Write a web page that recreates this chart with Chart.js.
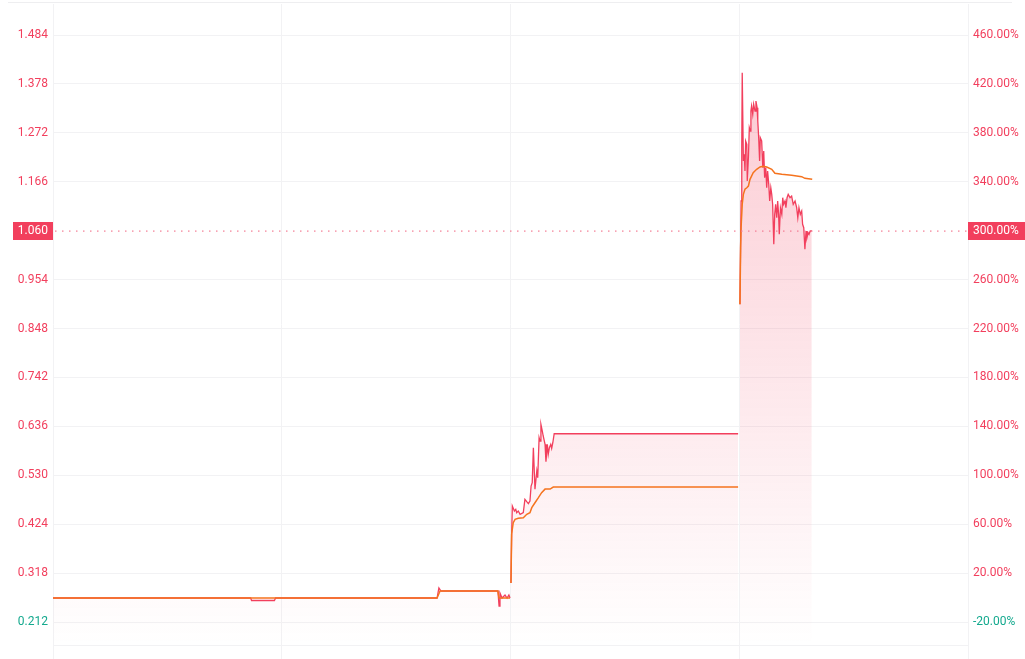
<!DOCTYPE html>
<html>
<head>
<meta charset="utf-8">
<script src="https://cdn.jsdelivr.net/npm/chart.js@4.4.0/dist/chart.umd.min.js"></script>
<style>
  html, body { margin: 0; padding: 0; background: #fff; }
  #wrap { width: 1025px; height: 659px; }
</style>
</head>
<body>
<div id="wrap"><canvas id="priceChart" width="1025" height="659"></canvas></div>
<script>
// ------------------- DATA -------------------
// price line (red), null = gap between trading sessions
const priceTimes = [
  0, 86.4, 86.8, 96.8, 97.3, 167.9, 168.7, 169.6, 194.5, 195.0, 195.4, 196.3, 197.6, 198.5, 199.3, 199.8,
  200.0,
  200.2, 200.5, 200.8, 201.7, 202.3, 202.7, 203.4, 204.2, 205.6, 206.3, 207.1, 207.8, 208.5, 209.0, 209.5,
  210.0, 210.7, 211.5, 211.9, 212.5, 212.9, 213.3, 213.9, 214.3, 215.1, 215.5, 216.1, 216.5, 217.0, 217.6,
  218.0, 218.5, 219.1, 299.5,
  300.0,
  300.3, 300.8, 301.1, 301.3, 301.8, 302.2, 302.5, 302.8, 303.3, 303.5, 304.0, 304.4, 304.8, 305.1, 305.4,
  305.9, 306.3, 306.9, 307.3, 307.8, 308.1, 308.5, 308.9, 309.2, 309.8, 310.3, 310.7, 311.1, 311.6, 312.0,
  312.4, 312.9, 313.3, 313.8, 314.2, 314.6, 315.1, 315.5, 315.9, 316.4, 316.8, 317.2, 317.5, 318.0, 318.6,
  319.0, 319.4, 320.0, 320.4, 320.9, 321.4, 322.2, 322.9, 323.6, 324.4, 325.1, 325.6, 326.1, 326.7, 327.3,
  327.7, 328.2, 328.7, 329.2, 329.6, 330.1, 330.5, 331.0, 331.7
];
const priceValues = [
  0.264, 0.264, 0.2586, 0.2586, 0.264, 0.264, 0.2857, 0.2792, 0.2792, 0.2467, 0.2748, 0.264, 0.2705, 0.264, 0.2705, 0.264,
  null,
  0.2965, 0.4027, 0.4634, 0.4525, 0.4562, 0.4489, 0.4525, 0.4454, 0.4489, 0.4779, 0.4727, 0.4684, 0.4742, 0.5067, 0.5139,
  0.5897, 0.5000, 0.5392, 0.5247, 0.6114, 0.6042, 0.6404, 0.6259, 0.6151, 0.5971, 0.5594, 0.5971, 0.5754, 0.5897, 0.5971,
  0.5884, 0.6005, 0.6200, 0.6200,
  null,
  0.9005, 1.1243, 1.2398, 1.4023, 1.2110, 1.2255, 1.1893, 1.2543, 1.2472, 1.1676, 1.2181, 1.2831, 1.2760, 1.3193, 1.3302,
  1.3122, 1.3339, 1.3193, 1.3410, 1.3265, 1.2977, 1.2615, 1.2110, 1.2615, 1.2543, 1.1965, 1.2327, 1.1748, 1.1965, 1.1531,
  1.1893, 1.1605, 1.1243, 1.1531, 1.1388, 1.1172, 1.0305, 1.0955, 1.1172, 1.0881, 1.1243, 1.0955, 1.0521, 1.1098, 1.0955,
  1.1315, 1.1172, 1.1243, 1.1098, 1.1315, 1.1388, 1.1315, 1.1351, 1.1172, 1.1243, 1.1098, 1.0881, 1.1098, 1.0955, 1.1026,
  1.0738, 1.0665, 1.0196, 1.0593, 1.0448, 1.0556, 1.0521, 1.0593, 1.060
];

// average price line (orange)
const avgTimes = [
  0, 167.9, 169.2, 194.5, 195.0, 199.8,
  200.0,
  200.2, 200.5, 201.2, 202.0, 203.4, 205.6, 207.1, 208.5, 209.3, 210.7, 212.2, 213.6, 215.1, 217.3, 218.7, 299.5,
  300.0,
  300.3, 300.6, 300.8, 301.3, 301.8, 302.5, 303.3, 304.0, 304.7, 306.1, 307.6, 309.1, 310.5, 312.0, 314.2,
  315.6, 318.6, 322.9, 327.3, 328.7, 331.9
];
const avgValues = [
  0.264, 0.264, 0.2792, 0.2792, 0.264, 0.264,
  null,
  0.2965, 0.4027, 0.4272, 0.4345, 0.4367, 0.4380, 0.4454, 0.4489, 0.4597, 0.4705, 0.4814, 0.4922, 0.5000, 0.5000, 0.5045, 0.5045,
  null,
  0.9005, 1.0231, 1.0665, 1.1172, 1.1388, 1.1497, 1.1531, 1.1568, 1.1713, 1.1856, 1.1930, 1.1980, 1.1995, 1.1980, 1.1930,
  1.1843, 1.1822, 1.1800, 1.1770, 1.1735, 1.1713
];

// axis ticks
const priceTicks = [0.212, 0.318, 0.424, 0.530, 0.636, 0.742, 0.848, 0.954, 1.060, 1.166, 1.272, 1.378, 1.484];
const percentTickLabels = ['-20.00%', '20.00%', '60.00%', '100.00%', '140.00%', '180.00%', '220.00%',
  '260.00%', '300.00%', '340.00%', '380.00%', '420.00%', '460.00%'];
const basePrice = 0.265;
const lastPrice = priceValues[priceValues.length - 1];
const lastPercent = '300.00%';

// ------------------- STYLE -------------------
const RED = '#F23F5D';
const GREEN = '#14A98E';
const ORANGE = '#F5731E';
const GRID = '#F2F2F4';
Chart.defaults.font.family = 'Roboto, "Noto Sans", sans-serif';
Chart.defaults.font.size = 12;

const toPoints = (xs, ys) => xs.map((x, i) => ({ x: x, y: ys[i] }));
const tickColor = ctx => (ctx.tick && ctx.tick.value < basePrice ? GREEN : RED);
// no grid line under the last price marker
const gridColor = ctx => (ctx.tick && Math.abs(ctx.tick.value - lastPrice) < 1e-6 ? 'rgba(0,0,0,0)' : GRID);

// y axes: fixed width, no extra label padding at top/bottom
const fitY = width => s => {
  s.width = width;
  s.paddingTop = 0;
  s.paddingBottom = 0;
};

// top border line + last price marker
const pricePlugin = {
  id: 'pricePlugin',
  beforeDraw(chart) {
    const c = chart.ctx;
    c.save();
    c.strokeStyle = '#EEEEF0';
    c.lineWidth = 1;
    c.beginPath();
    c.moveTo(8, 2.5);
    c.lineTo(1012, 2.5);
    c.stroke();
    c.restore();
  },
  afterDraw(chart) {
    const c = chart.ctx;
    const area = chart.chartArea;
    const y = Math.round(chart.scales.y.getPixelForValue(lastPrice));
    c.save();
    c.fillStyle = '#F47D93';
    for (let x = area.left + 2; x < area.right; x += 7) {
      c.fillRect(x, y - 0.5, 1.5, 1.2);
    }
    c.fillStyle = RED;
    c.fillRect(13, y - 9, area.left - 13, 18);
    c.fillRect(area.right, y - 9, 1025 - area.right, 18);
    c.fillStyle = '#fff';
    c.font = '12px Roboto, "Noto Sans", sans-serif';
    c.textBaseline = 'middle';
    c.textAlign = 'right';
    c.fillText(lastPrice.toFixed(3), area.left - 5, y);
    c.textAlign = 'left';
    c.fillText(lastPercent, area.right + 5, y);
    c.restore();
  }
};

// ------------------- CHART -------------------
const ctx = document.getElementById('priceChart').getContext('2d');
const priceChart = new Chart(ctx, {
  type: 'line',
  data: {
    datasets: [
      {
        label: 'Average',
        data: toPoints(avgTimes, avgValues),
        borderColor: ORANGE,
        borderWidth: 1.5,
        pointRadius: 0,
        tension: 0,
        fill: false,
        spanGaps: false
      },
      {
        label: 'Price',
        data: toPoints(priceTimes, priceValues),
        borderColor: RED,
        borderWidth: 1.3,
        pointRadius: 0,
        tension: 0,
        spanGaps: false,
        fill: 'start',
        backgroundColor: c => {
          const area = c.chart.chartArea;
          if (!area) return 'rgba(242,63,93,0.1)';
          const g = c.chart.ctx.createLinearGradient(0, area.top, 0, area.bottom);
          g.addColorStop(0, 'rgba(242,63,93,0.30)');
          g.addColorStop(1, 'rgba(242,63,93,0.0)');
          return g;
        }
      }
    ]
  },
  options: {
    responsive: false,
    animation: false,
    layout: { padding: { top: 4, left: 0, right: 0, bottom: 0 } },
    plugins: {
      legend: { display: false },
      tooltip: { enabled: false }
    },
    scales: {
      x: {
        type: 'linear',
        min: 0,
        max: 400,
        ticks: { display: false, stepSize: 100 },
        grid: { color: GRID, tickLength: 14, drawTicks: true },
        border: { display: true, color: GRID },
        afterFit: s => { s.height = 14; s.paddingLeft = 0; s.paddingRight = 0; }
      },
      y: {
        position: 'left',
        min: 0.1622,
        max: 1.5512,
        afterBuildTicks: s => { s.ticks = priceTicks.map(v => ({ value: v })); },
        ticks: {
          color: tickColor,
          padding: 5,
          callback: v => v.toFixed(3)
        },
        grid: { color: gridColor, drawTicks: false },
        border: { display: false },
        afterFit: fitY(53)
      },
      y1: {
        position: 'right',
        min: 0.1622,
        max: 1.5512,
        afterBuildTicks: s => { s.ticks = priceTicks.map(v => ({ value: v })); },
        ticks: {
          color: tickColor,
          padding: 5,
          callback: (v, i) => percentTickLabels[i]
        },
        grid: { display: false, drawTicks: false },
        border: { display: false },
        afterFit: fitY(57)
      }
    }
  },
  plugins: [pricePlugin]
});
</script>
</body>
</html>
